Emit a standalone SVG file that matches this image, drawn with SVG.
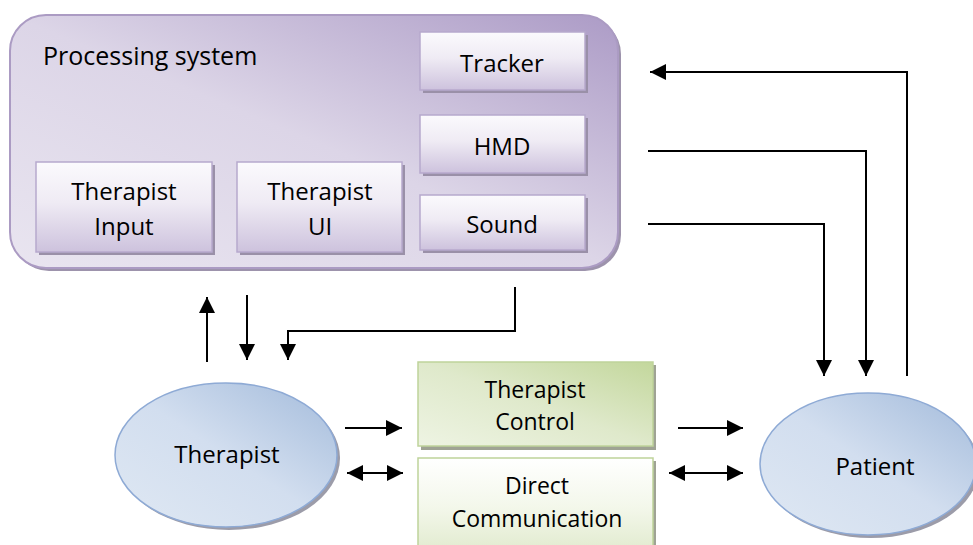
<svg xmlns="http://www.w3.org/2000/svg" width="973" height="545" viewBox="0 0 973 545">
<style>
  text { font-family: "Open Sans", "Liberation Sans", sans-serif; font-size: 24px; fill: #000; }
  .c { text-anchor: middle; }
  .conn { fill: none; stroke: #000; stroke-width: 2; }
  .inner { fill: url(#gInner); stroke: #b7a9cd; stroke-width: 1.5; }
  .ishadow { fill: #9a90a8; }
  .eshadow { fill: #9c9ca9; }
  .ell { fill: url(#gBlue); stroke: #8eaad5; stroke-width: 1.5; }
</style>
<defs>
  <linearGradient id="gMain" x1="0" y1="1" x2="1" y2="0">
    <stop offset="0" stop-color="#e9e5f0"/>
    <stop offset="0.5" stop-color="#dcd5e7"/>
    <stop offset="1" stop-color="#ac9bc6"/>
  </linearGradient>
  <linearGradient id="gInner" x1="0" y1="0" x2="0" y2="1">
    <stop offset="0" stop-color="#fbfafd"/>
    <stop offset="0.45" stop-color="#efebf4"/>
    <stop offset="1" stop-color="#cdc2dd"/>
  </linearGradient>
  <linearGradient id="gTC" x1="0" y1="1" x2="1" y2="0">
    <stop offset="0" stop-color="#eef4e3"/>
    <stop offset="0.5" stop-color="#dfe9cb"/>
    <stop offset="1" stop-color="#c3d79c"/>
  </linearGradient>
  <linearGradient id="gDC" x1="0" y1="0" x2="0" y2="1">
    <stop offset="0" stop-color="#ffffff"/>
    <stop offset="0.5" stop-color="#f3f7ea"/>
    <stop offset="1" stop-color="#dfe9cb"/>
  </linearGradient>
  <linearGradient id="gBlue" x1="0" y1="1" x2="1" y2="0">
    <stop offset="0" stop-color="#dfe8f3"/>
    <stop offset="0.5" stop-color="#d2deef"/>
    <stop offset="1" stop-color="#a3bbdb"/>
  </linearGradient>
  <marker id="arr" markerUnits="userSpaceOnUse" markerWidth="17" markerHeight="16" refX="16" refY="8" orient="auto-start-reverse">
    <path d="M0,0 L16,8 L0,16 z" fill="#000"/>
  </marker>
</defs>

<g id="processing-system">
  <rect x="13" y="18" width="608" height="253" rx="36" fill="#9d93ac"/>
  <rect x="10" y="15" width="608" height="253" rx="36" fill="url(#gMain)" stroke="#ab9bc3" stroke-width="2"/>
  <text x="43" y="65" style="font-size:25px">Processing system</text>
</g>

<g id="tracker">
  <rect class="ishadow" x="423" y="35" width="165" height="58"/>
  <rect class="inner" x="420" y="32" width="165" height="58"/>
  <text class="c" x="502" y="72">Tracker</text>
</g>

<g id="hmd">
  <rect class="ishadow" x="423" y="118" width="165" height="58"/>
  <rect class="inner" x="420" y="115" width="165" height="58"/>
  <text class="c" x="502" y="155">HMD</text>
</g>

<g id="sound">
  <rect class="ishadow" x="423" y="198" width="165" height="55"/>
  <rect class="inner" x="420" y="195" width="165" height="55"/>
  <text class="c" x="502" y="233">Sound</text>
</g>

<g id="therapist-input">
  <rect class="ishadow" x="39" y="165" width="176" height="90"/>
  <rect class="inner" x="36" y="162" width="176" height="90"/>
  <text class="c" x="124" y="200">Therapist</text>
  <text class="c" x="124" y="235">Input</text>
</g>

<g id="therapist-ui">
  <rect class="ishadow" x="240" y="165" width="165" height="90"/>
  <rect class="inner" x="237" y="162" width="165" height="90"/>
  <text class="c" x="320" y="200">Therapist</text>
  <text class="c" x="320" y="235">UI</text>
</g>

<g id="therapist-control">
  <rect x="421" y="365" width="235" height="85" fill="#9fa394"/>
  <rect x="418" y="362" width="235" height="84" fill="url(#gTC)" stroke="#bfd39a" stroke-width="1.5"/>
  <text class="c" x="535" y="398" style="font-size:23px">Therapist</text>
  <text class="c" x="535" y="430" style="font-size:23px">Control</text>
</g>

<g id="direct-communication">
  <rect x="421" y="461" width="235" height="100" fill="#9fa394"/>
  <rect x="418" y="458" width="235" height="100" fill="url(#gDC)" stroke="#bfd39a" stroke-width="1.5"/>
  <text class="c" x="537" y="494" style="font-size:23px">Direct</text>
  <text class="c" x="537" y="527" style="font-size:23px">Communication</text>
</g>

<g id="therapist">
  <ellipse class="eshadow" cx="229" cy="458" rx="111" ry="72"/>
  <ellipse class="ell" cx="226" cy="455" rx="111" ry="72"/>
  <text class="c" x="227" y="463">Therapist</text>
</g>

<g id="patient">
  <ellipse class="eshadow" cx="871" cy="467" rx="108" ry="71"/>
  <ellipse class="ell" cx="868" cy="464" rx="108" ry="71"/>
  <text class="c" x="875" y="475">Patient</text>
</g>

<g id="connectors">
  <path class="conn" d="M907,376 V72 H650" marker-end="url(#arr)"/>
  <path class="conn" d="M648,151 H866 V376" marker-end="url(#arr)"/>
  <path class="conn" d="M648,224 H824 V376" marker-end="url(#arr)"/>
  <path class="conn" d="M207,362 V297" marker-end="url(#arr)"/>
  <path class="conn" d="M247,295 V360" marker-end="url(#arr)"/>
  <path class="conn" d="M515,287 V331 H288 V360" marker-end="url(#arr)"/>
  <path class="conn" d="M345,428 H402" marker-end="url(#arr)"/>
  <path class="conn" d="M347,473 H403" marker-start="url(#arr)" marker-end="url(#arr)"/>
  <path class="conn" d="M678,428 H743" marker-end="url(#arr)"/>
  <path class="conn" d="M669,473 H743" marker-start="url(#arr)" marker-end="url(#arr)"/>
</g>
</svg>
